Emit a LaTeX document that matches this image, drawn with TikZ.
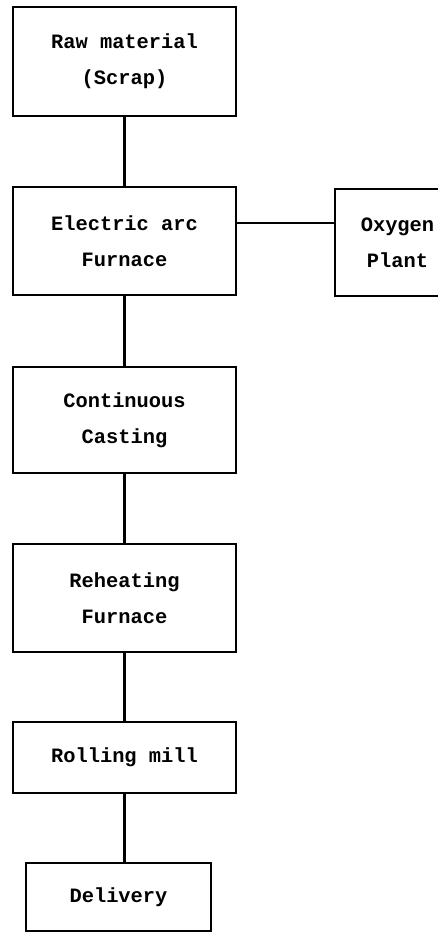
\documentclass[tikz,border=0pt]{standalone}
\usepackage{fontspec}
\setmonofont{Liberation Mono}
\usetikzlibrary{positioning}
\tikzset{stage/.style={draw, line width=1.3pt, align=center, inner sep=0pt,
    font=\fontsize{14.5}{25.6}\selectfont\ttfamily\bfseries},
  link/.style={line width=1.5pt},
  spine/.style={link, xshift=-0.04cm}}

\begin{document}
\begin{tikzpicture}[x=0.025cm, y=-0.025cm]

    \useasboundingbox (0,0) rectangle (438,934);

	\node [stage, minimum width=223*0.025cm, minimum height=109*0.025cm] (raw) at (124.5,61.5) {Raw material\\(Scrap)};
	\node [stage, minimum width=223*0.025cm, minimum height=108*0.025cm] (arc) at (124.5,241) {Electric arc\\Furnace};
	\node [stage, minimum width=125*0.025cm, minimum height=107*0.025cm] (oxy) at (397.5,242.5) {Oxygen\\Plant};
	\node [stage, minimum width=223*0.025cm, minimum height=106*0.025cm] (cast) at (124.5,420) {Continuous\\Casting};
	\node [stage, minimum width=223*0.025cm, minimum height=108*0.025cm] (reheat) at (124.5,598) {Reheating\\Furnace};
	\node [stage, minimum width=223*0.025cm, minimum height=71*0.025cm] (roll) at (124.5,757.5) {Rolling mill};
	\node [stage, minimum width=185*0.025cm, minimum height=68*0.025cm] (deliv) at (118.5,897) {Delivery};


	\draw [spine] (raw.south) -- (arc.north);
	\draw [link] (arc.east) ++(0,-18) coordinate (ao) -- (ao -| oxy.west);
	\draw [spine] (arc.south) -- (cast.north);
	\draw [spine] (cast.south) -- (reheat.north);
	\draw [spine] (reheat.south) -- (roll.north);
	\draw [spine] (roll.south) -- (roll.south |- deliv.north);

\end{tikzpicture}
\end{document}
